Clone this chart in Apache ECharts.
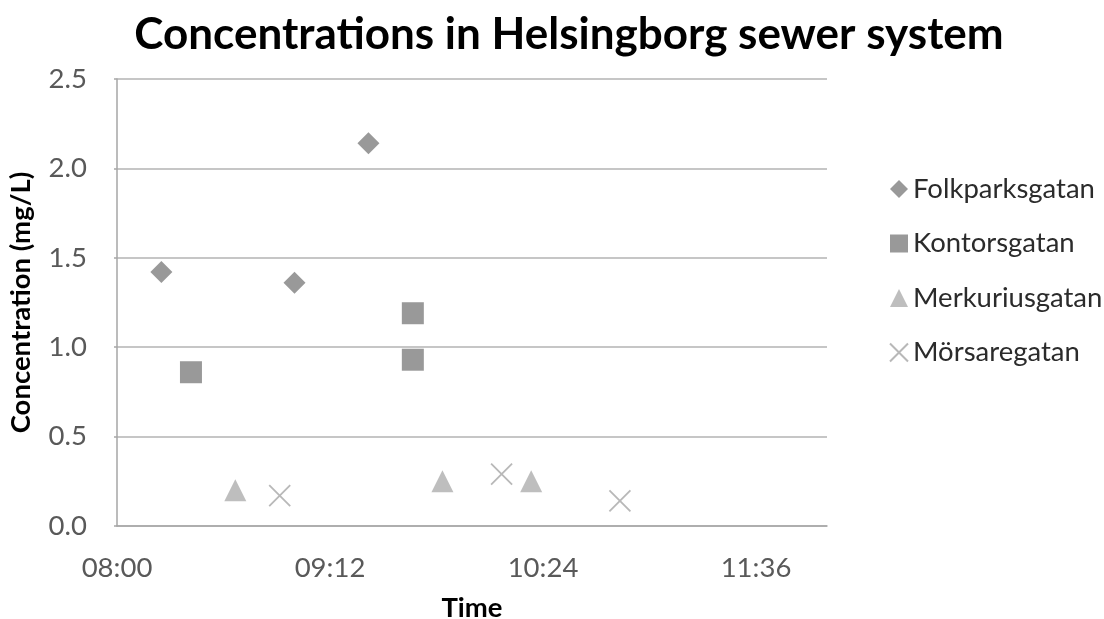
<!DOCTYPE html>
<html>
<head>
<meta charset="utf-8">
<script src="https://cdn.jsdelivr.net/npm/echarts@6/dist/echarts.min.js"></script>
<style>
  html, body { margin: 0; padding: 0; background: #fff; }
  #chart { width: 1104px; height: 619px; }
</style>
</head>
<body>
<div id="chart"></div>
<script>
// Sampling times (clock time) and measured concentrations (mg/L) per street
const folkparksTimes = ['08:15', '09:00', '09:25'];
const folkparksValues = [1.42, 1.36, 2.14];

const kontorsTimes = ['08:25', '09:40', '09:40'];
const kontorsValues = [0.86, 1.19, 0.93];

const merkuriusTimes = ['08:40', '09:50', '10:20'];
const merkuriusValues = [0.20, 0.25, 0.25];

const morsareTimes = ['08:55', '10:10', '10:50'];
const morsareValues = [0.17, 0.29, 0.14];

const seriesNames = ['Folkparksgatan', 'Kontorsgatan', 'Merkuriusgatan', 'Mörsaregatan'];

// The time axis runs in minutes counted from 08:00
const AXIS_START = 8 * 60;
const toMinutes = t => { const p = t.split(':').map(Number); return p[0] * 60 + p[1] - AXIS_START; };
const pad = n => (n < 10 ? '0' : '') + n;
const toClock = m => { const t = m + AXIS_START; return pad(Math.floor(t / 60)) + ':' + pad(t % 60); };
const pairs = (times, values) => times.map((t, i) => [toMinutes(t), values[i]]);

const FONT = 'Lato, "Open Sans", sans-serif';
const CROSS = 'path://M0,0L10,10M10,0L0,10';

const chart = echarts.init(document.getElementById('chart'), null, { renderer: 'canvas' });
chart.setOption({
  animation: false,
  backgroundColor: '#ffffff',
  graphic: [{
    type: 'text',
    x: 569,
    y: 13,
    style: {
      text: 'Concentrations in Helsingborg sewer system',
      fontFamily: FONT,
      fontSize: 44,
      fontWeight: 'bold',
      fill: '#000000',
      align: 'center',
      textAlign: 'center',
      verticalAlign: 'top'
    }
  }],
  grid: { left: 117, right: 277, top: 79, bottom: 93, containLabel: false, outerBoundsMode: 'none' },
  legend: {
    orient: 'vertical',
    left: 884,
    top: 170,
    itemWidth: 18,
    itemHeight: 18,
    itemGap: 26.5,
    data: seriesNames,
    textStyle: { fontFamily: FONT, fontSize: 27.5, color: '#2b2b2b', lineHeight: 28 }
  },
  xAxis: {
    type: 'value',
    min: 0,
    max: 240,
    interval: 72,
    name: 'Time',
    nameLocation: 'middle',
    nameGap: 68,
    nameTextStyle: { fontFamily: FONT, fontSize: 27.5, fontWeight: 'bold', color: '#000000' },
    axisLine: { show: true, lineStyle: { color: '#a6a6a6', width: 1.5 } },
    axisTick: { show: false },
    splitLine: { show: false },
    axisLabel: {
      formatter: v => toClock(v),
      showMaxLabel: false,
      margin: 28,
      fontFamily: FONT,
      fontSize: 27.5,
      color: '#595959'
    }
  },
  yAxis: {
    type: 'value',
    min: 0,
    max: 2.5,
    interval: 0.5,
    name: 'Concentration (mg/L)',
    nameLocation: 'middle',
    nameGap: 82,
    nameTextStyle: { fontFamily: FONT, fontSize: 27.5, fontWeight: 'bold', color: '#000000' },
    axisLine: { show: true, lineStyle: { color: '#a6a6a6', width: 1.5 } },
    axisTick: { show: true, length: 3, lineStyle: { color: '#a6a6a6', width: 1.5 } },
    splitLine: { show: true, lineStyle: { color: '#b3b3b3', width: 1.5 } },
    axisLabel: {
      formatter: v => v.toFixed(1),
      margin: 30,
      padding: [10, 0, 0, 0],
      fontFamily: FONT,
      fontSize: 27.5,
      color: '#595959'
    }
  },
  series: [
    {
      name: seriesNames[0], type: 'scatter', symbol: 'diamond', symbolSize: 22,
      itemStyle: { color: '#7f7f7f' },
      data: pairs(folkparksTimes, folkparksValues)
    },
    {
      name: seriesNames[1], type: 'scatter', symbol: 'rect', symbolSize: 22,
      itemStyle: { color: '#7f7f7f' },
      data: pairs(kontorsTimes, kontorsValues)
    },
    {
      name: seriesNames[2], type: 'scatter', symbol: 'triangle', symbolSize: 22,
      itemStyle: { color: '#aeaeae' },
      data: pairs(merkuriusTimes, merkuriusValues)
    },
    {
      name: seriesNames[3], type: 'scatter', symbol: CROSS, symbolSize: 21,
      itemStyle: { color: 'rgba(0,0,0,0)', borderColor: '#a6a6a6', borderWidth: 1.8 },
      data: pairs(morsareTimes, morsareValues)
    }
  ]
});
</script>
</body>
</html>
